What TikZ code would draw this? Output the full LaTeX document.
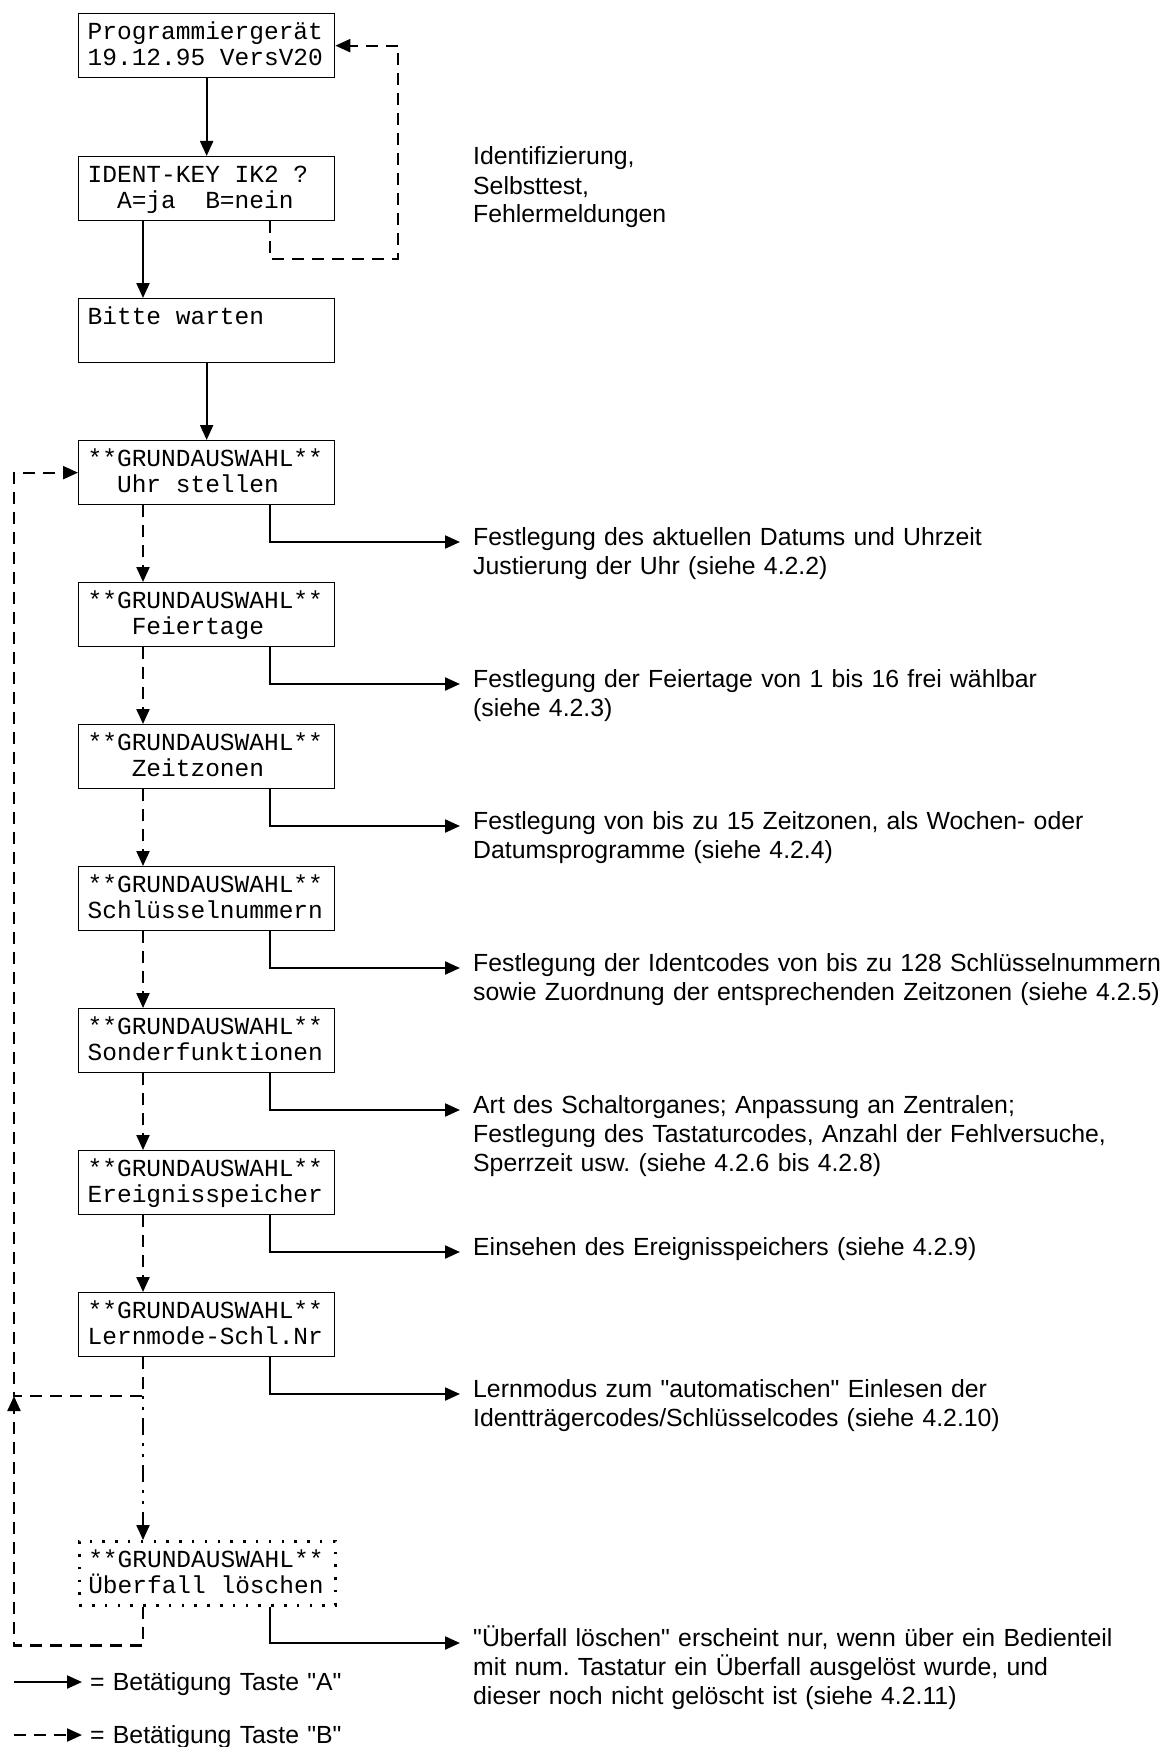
\documentclass[tikz,border=0pt]{standalone}
\usepackage{fontspec}
\setmainfont{Liberation Sans}
\newfontfamily\lcdfont{Liberation Mono}
\usetikzlibrary{arrows.meta}
\frenchspacing

\newcommand{\lcdsetup}{\lcdfont\fontsize{24.5}{26}\selectfont}
\newcommand{\lcdtext}[2]{\spaceskip=14.7pt\relax\xspaceskip=14.7pt\relax
  \rule{0pt}{26pt}#1\\\mbox{}#2\rule[-12pt]{0pt}{12pt}}
\newcommand{\qd}{\textquotedbl}

\tikzset{
  lcd/.style={draw, line width=1.3pt, anchor=north west, inner xsep=9pt, inner ysep=0pt,
    text width=238pt, align=left, font=\lcdsetup},
  note/.style={anchor=base west, inner sep=0pt, text width=760pt, align=left,
    font=\fontsize{24.8}{29}\selectfont},
  akey/.style={line width=2.2pt, -{Triangle[length=15pt,width=13pt]}},
  bkey/.style={akey, dash pattern=on 12pt off 8pt},
  ckey/.style={akey, dash pattern=on 3pt off 8pt on 3pt off 8pt on 17pt off 8pt},
}

\begin{document}
\begin{tikzpicture}[x=1pt,y=-1pt]
            \useasboundingbox (0,0) rectangle (1163,1747);
            \coordinate (ax) at (270,0);
            \coordinate (bx) at (143,0);
            \coordinate (lx) at (14,0);
            \coordinate (rx) at (398,0);

            \node[lcd] (prog) at (78,13) {\lcdtext{Programmiergerät}{19.12.95 VersV20}};
            \node[lcd] (ident) at (78,156) {\lcdtext{IDENT-KEY IK2 ?}{~~A=ja~~B=nein}};
            \node[lcd] (wait) at (78,298) {\lcdtext{Bitte warten}{}};
            \node[lcd] (uhr) at (78,440) {\lcdtext{**GRUNDAUSWAHL**}{~~Uhr stellen}};
            \node[lcd] (feier) at (78,582) {\lcdtext{**GRUNDAUSWAHL**}{~~~Feiertage}};
            \node[lcd] (zone) at (78,724) {\lcdtext{**GRUNDAUSWAHL**}{~~~Zeitzonen}};
            \node[lcd] (key) at (78,866) {\lcdtext{**GRUNDAUSWAHL**}{Schlüsselnummern}};
            \node[lcd] (sonder) at (78,1008) {\lcdtext{**GRUNDAUSWAHL**}{Sonderfunktionen}};
            \node[lcd] (event) at (78,1150) {\lcdtext{**GRUNDAUSWAHL**}{Ereignisspeicher}};
            \node[lcd] (learn) at (78,1292) {\lcdtext{**GRUNDAUSWAHL**}{Lernmode-Schl.Nr}};
            \node[lcd, dash pattern=on 2.5pt off 10.3pt, line width=2.5pt] (uber) at (78,1540)
                {\lcdtext{**GRUNDAUSWAHL**}{Überfall löschen}};

            \node[note] (tident) at (473,165) {Identifizierung,\\Selbsttest,\\Fehlermeldungen};
            \node[note] (tuhr) at (473,545) {Festlegung des aktuellen Datums und Uhrzeit\\Justierung der Uhr (siehe 4.2.2)};
            \node[note] (tfeier) at (473,687) {Festlegung der Feiertage von 1 bis 16 frei wählbar\\(siehe 4.2.3)};
            \node[note] (tzone) at (473,829) {Festlegung von bis zu 15 Zeitzonen, als Wochen- oder\\Datumsprogramme (siehe 4.2.4)};
            \node[note] (tkey) at (473,971) {Festlegung der Identcodes von bis zu 128 Schlüsselnummern\\sowie Zuordnung der entsprechenden Zeitzonen (siehe 4.2.5)};
            \node[note] (tsonder) at (473,1113) {Art des Schaltorganes; Anpassung an Zentralen;\\Festlegung des Tastaturcodes, Anzahl der Fehlversuche,\\Sperrzeit usw. (siehe 4.2.6 bis 4.2.8)};
            \node[note] (tevent) at (473,1255) {Einsehen des Ereignisspeichers (siehe 4.2.9)};
            \node[note] (tlearn) at (473,1397) {Lernmodus zum \qd automatischen\qd{} Einlesen der\\Identträgercodes/Schlüsselcodes (siehe 4.2.10)};
            \node[note] (tuber) at (473,1646) {\qd Überfall löschen\qd{} erscheint nur, wenn über ein Bedienteil\\mit num. Tastatur ein Überfall ausgelöst wurde, und\\dieser noch nicht gelöscht ist (siehe 4.2.11)};

            % Taste A
            \draw[akey] (prog) -- (ident);
            \draw[akey] (ident.south -| bx) -- (wait.north -| bx);
            \draw[akey] (wait) -- (uhr);
            \draw[akey] (uhr.south -| ax) |- ([shift={(-13pt,3pt)}]tuhr.base west);
            \draw[akey] (feier.south -| ax) |- ([shift={(-13pt,3pt)}]tfeier.base west);
            \draw[akey] (zone.south -| ax) |- ([shift={(-13pt,3pt)}]tzone.base west);
            \draw[akey] (key.south -| ax) |- ([shift={(-13pt,3pt)}]tkey.base west);
            \draw[akey] (sonder.south -| ax) |- ([shift={(-13pt,3pt)}]tsonder.base west);
            \draw[akey] (event.south -| ax) |- ([shift={(-13pt,3pt)}]tevent.base west);
            \draw[akey] (learn.south -| ax) |- ([shift={(-13pt,3pt)}]tlearn.base west);
            \draw[akey] (uber.south -| ax) |- ([shift={(-13pt,3pt)}]tuber.base west);

            % Taste B
            \draw[bkey] (ident.south -| ax) -- ++(0,38) -| (rx |- prog.east) -- (prog.east);
            \draw[bkey] (uhr.south -| bx) -- (feier.north -| bx);
            \draw[bkey] (feier.south -| bx) -- (zone.north -| bx);
            \draw[bkey] (zone.south -| bx) -- (key.north -| bx);
            \draw[bkey] (key.south -| bx) -- (sonder.north -| bx);
            \draw[bkey] (sonder.south -| bx) -- (event.north -| bx);
            \draw[bkey] (event.south -| bx) -- (learn.north -| bx);
            \coordinate (jn) at (143,1396);
            \draw[bkey] (learn.south -| bx) -- (jn) -| (lx |- uhr.west) -- (uhr.west);
            \draw[ckey] (jn) -- (uber.north -| bx);
            \draw[bkey] (uber.south -| bx) -- ++(0,39) -| (lx |- jn);

            % Legende
            \node[note] (keya) at (90,1690) {= Betätigung Taste \qd A\qd};
            \node[note] (keyb) at (90,1743) {= Betätigung Taste \qd B\qd};
            \coordinate (lega) at (14,1682);
            \coordinate (legb) at (14,1735);
            \draw[akey] (lega) -- ([shift={(-8pt,8pt)}]keya.base west);
            \draw[bkey] (legb) -- ([shift={(-8pt,8pt)}]keyb.base west);
        \end{tikzpicture}
\end{document}
